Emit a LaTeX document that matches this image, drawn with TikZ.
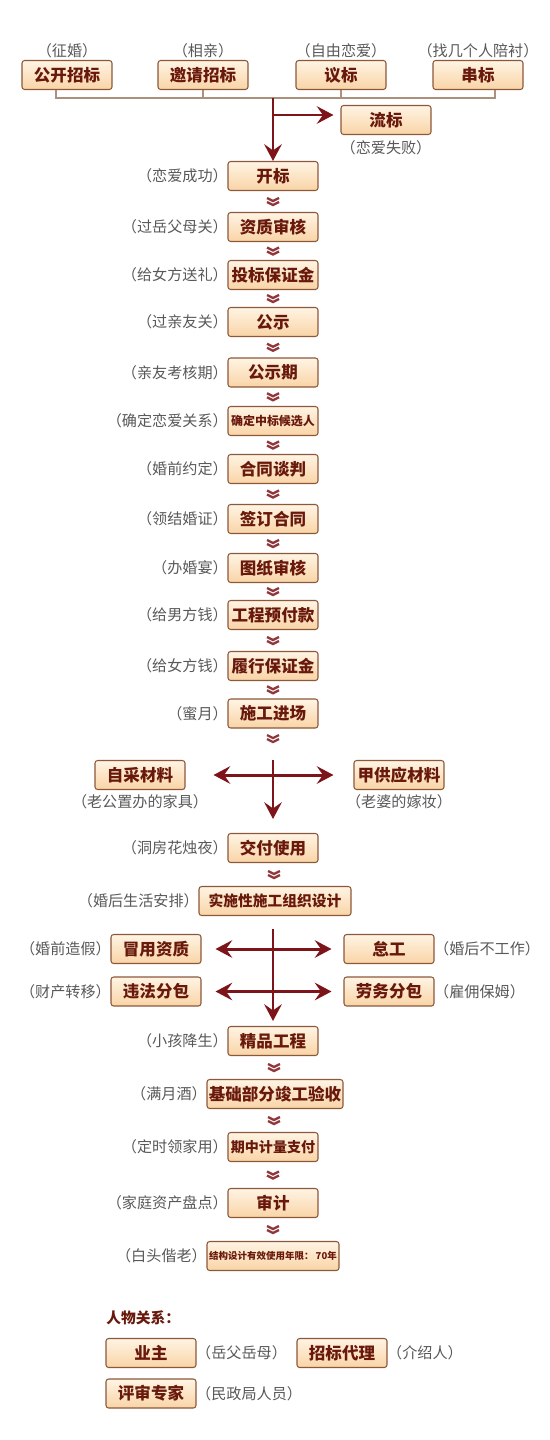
\documentclass[tikz,border=0pt]{standalone}
\usepackage{fontspec}
\setmainfont{Noto Sans CJK SC}
\usepackage{tikz}
\usetikzlibrary{arrows.meta, positioning, calc}
\definecolor{wdred}{RGB}{125,20,25}
\definecolor{wdtext}{RGB}{105,25,12}
\definecolor{wdedge}{RGB}{140,88,58}
\definecolor{wdtop}{RGB}{255,244,228}
\definecolor{wdbot}{RGB}{249,212,166}
\definecolor{wdgray}{RGB}{88,88,88}
\definecolor{wdline}{RGB}{170,145,125}
% full-width brackets round a side note
\newcommand{\pnote}[1]{\makebox[0.9em][r]{（}#1\makebox[0.9em][l]{）}}

\begin{document}
\begin{tikzpicture}[x=0.02cm, y=-0.02cm,
  every node/.style={inner sep=0pt},
  stage/.style={rectangle, draw=wdedge, line width=0.6pt,
                top color=wdtop, bottom color=wdbot, text=wdtext,
                font=\bfseries\fontsize{9.4pt}{11pt}\selectfont,
                minimum width=1.8cm, minimum height=0.58cm,
                rounded corners=1.5pt, align=center},
  note/.style={text=wdgray, font=\fontsize{8.6pt}{10pt}\selectfont},
  arr/.style={-{Stealth[length=9.5pt,width=10pt,inset=3.5pt]},
              line width=1.7pt, color=wdred},
  dblarr/.style={{Stealth[length=9.5pt,width=10pt,inset=3.5pt]}-{Stealth[length=9.5pt,width=10pt,inset=3.5pt]},
              line width=1.7pt, color=wdred},
  bracket/.style={line width=0.6pt, color=wdline},
  chev/.pic={\draw[wdred!85, line width=1.3pt]
              (-6,-3.5) -- (0,-0.5) -- (6,-3.5)
              (-6,0.5) -- (0,3.5) -- (6,0.5);},
]
\useasboundingbox (0,0) rectangle (550,1440);

% ── Bidding types ──
\node[stage] (gkzb) at (67,75)  {公开招标};
\node[stage] (yqzb) at (203,75) {邀请招标};
\node[stage] (yb)   at (341,75) {议标};
\node[stage] (cb)   at (478,75) {串标};
\node[note, above=1pt of gkzb] (gkzbn) {\pnote{征婚}};
\node[note, above=1pt of yqzb] (yqzbn) {\pnote{相亲}};
\node[note, above=1pt of yb]   (ybn)   {\pnote{自由恋爱}};
\node[note, above=1pt of cb]   (cbn)   {\pnote{找几个人陪衬}};

\coordinate (tl) at (56,98);
\coordinate (tr) at (495,98);
\coordinate (jn) at (273,98);
\coordinate (br) at (273,115);
\draw[bracket] (gkzb.south -| tl) -- (tl) -- (tr) -- (cb.south -| tr);
\draw[bracket] (yqzb.south) -- (yqzb.south |- tl);
\draw[bracket] (yb.south) -- (yb.south |- tl);

\node[stage] (lb) at (386,120) {流标};
\node[note, below=3pt of lb] (lbn) {\pnote{恋爱失败}};

% ── Main chain ──
\node[stage] (kb)  at (273,176)   {开标};
\node[stage] (zz)  at (273,227)   {资质审核};
\node[stage] (tb)  at (273,275)   {投标保证金};
\node[stage] (gs)  at (273,322)   {公示};
\node[stage] (gsq) at (273,372.5) {公示期};
\node[stage, font=\bfseries\fontsize{6.8pt}{8pt}\selectfont] (qd) at (273,421) {确定中标候选人};
\node[stage] (ht)  at (273,469)   {合同谈判};
\node[stage] (qy)  at (273,519)   {签订合同};
\node[stage] (tz)  at (273,568)   {图纸审核};
\node[stage] (yf)  at (273,615)   {工程预付款};
\node[stage] (ly)  at (273,666)   {履行保证金};
\node[stage] (jc)  at (273,713.5) {施工进场};

\node[note, left=0.5pt of kb]  (kbn)  {\pnote{恋爱成功}};
\node[note, left=0.5pt of zz]  (zzn)  {\pnote{过岳父母关}};
\node[note, left=0.5pt of tb]  (tbn)  {\pnote{给女方送礼}};
\node[note, left=0.5pt of gs]  (gsn)  {\pnote{过亲友关}};
\node[note, left=0.5pt of gsq] (gsqn) {\pnote{亲友考核期}};
\node[note, left=0.5pt of qd]  (qdn)  {\pnote{确定恋爱关系}};
\node[note, left=0.5pt of ht]  (htn)  {\pnote{婚前约定}};
\node[note, left=0.5pt of qy]  (qyn)  {\pnote{领结婚证}};
\node[note, left=0.5pt of tz]  (tzn)  {\pnote{办婚宴}};
\node[note, left=0.5pt of yf]  (yfn)  {\pnote{给男方钱}};
\node[note, left=0.5pt of ly]  (lyn)  {\pnote{给女方钱}};
\node[note, left=0.5pt of jc]  (jcn)  {\pnote{蜜月}};

\draw[arr] (jn) -- (kb);
\draw[arr, shorten >=0.14cm] (br) -- (br -| lb.west);

% ── Materials ──
\node[stage] (zc)   at (140,775) {自采材料};
\node[stage] (jgcl) at (399,775) {甲供应材料};
\node[note, below=2.5pt of zc]   (zcn)   {\pnote{老公置办的家具}};
\node[note, below=2.5pt of jgcl] (jgcln) {\pnote{老婆的嫁妆}};
\coordinate (c1) at (273,760);

\node[stage] (jf) at (273,848) {交付使用};
\node[stage, minimum width=3.04cm, font=\bfseries\fontsize{8.4pt}{10pt}\selectfont] (ss) at (275,901) {实施性施工组织设计};
\node[note, left=0.5pt of jf] (jfn) {\pnote{洞房花烛夜}};
\node[note, left=0.5pt of ss] (ssn) {\pnote{婚后生活安排}};

\draw[dblarr, shorten <=0.56cm, shorten >=0.4cm] (zc) -- (jgcl);
\draw[arr, shorten >=0.28cm] (c1) -- (jf);

% ── Violations ──
\node[stage] (my) at (156,949)   {冒用资质};
\node[stage] (wf) at (156,991.5) {违法分包};
\node[stage] (dg) at (389,949)   {怠工};
\node[stage] (lw) at (389,991.5) {劳务分包};
\node[note, left=0.5pt of my]  (myn) {\pnote{婚前造假}};
\node[note, left=0.5pt of wf]  (wfn) {\pnote{财产转移}};
\node[note, right=0.5pt of dg] (dgn) {\pnote{婚后不工作}};
\node[note, right=0.5pt of lw] (lwn) {\pnote{雇佣保姆}};
\coordinate (c2) at (273,929);

\node[stage] (jp) at (273,1041) {精品工程};
\node[stage, minimum width=2.72cm] (jy) at (275,1094) {基础部分竣工验收};
\node[stage, font=\bfseries\fontsize{8pt}{9.5pt}\selectfont] (qz) at (273,1147) {期中计量支付};
\node[stage] (sj) at (273,1203) {审计};
\node[stage, minimum width=2.64cm, font=\bfseries\fontsize{5.4pt}{6.5pt}\selectfont] (nx) at (273,1256) {结构设计有效使用年限： 70年};
\node[note, left=0.5pt of jp] (jpn) {\pnote{小孩降生}};
\node[note, left=0.5pt of jy] (jyn) {\pnote{满月酒}};
\node[note, left=0.5pt of qz] (qzn) {\pnote{定时领家用}};
\node[note, left=0.5pt of sj] (sjn) {\pnote{家庭资产盘点}};
\node[note, left=0.5pt of nx] (nxn) {\pnote{白头偕老}};

\draw[dblarr, shorten <=0.28cm, shorten >=0.24cm] (my) -- (dg);
\draw[dblarr, shorten <=0.28cm, shorten >=0.24cm] (wf) -- (lw);
\draw[arr, shorten >=0.1cm] (c2) -- (jp);

% chevrons between steps
\foreach \a/\b in {kb/zz, zz/tb, tb/gs, gs/gsq, gsq/qd, qd/ht, ht/qy, qy/tz,
                   tz/yf, yf/ly, ly/jc, jf/ss, jp/jy, jy/qz, qz/sj, sj/nx}
  \pic at ($(\a.south)!.5!(\b.north)$) {chev};
\pic at ($(jc.south)+(0,10)$) {chev};

% ── People ──
\node[anchor=west, text=wdtext, font=\bfseries\fontsize{8.4pt}{10pt}\selectfont] (rw) at (106,1318) {人物关系：};
\node[stage] (yz)   at (151,1353)   {业主};
\node[stage] (zbdl) at (342,1353)   {招标代理};
\node[stage] (pszj) at (151,1393.5) {评审专家};
\node[note, right=0.5pt of yz]   (yzn)   {\pnote{岳父岳母}};
\node[note, right=0.5pt of zbdl] (zbdln) {\pnote{介绍人}};
\node[note, right=0.5pt of pszj] (pszjn) {\pnote{民政局人员}};

\end{tikzpicture}
\end{document}
